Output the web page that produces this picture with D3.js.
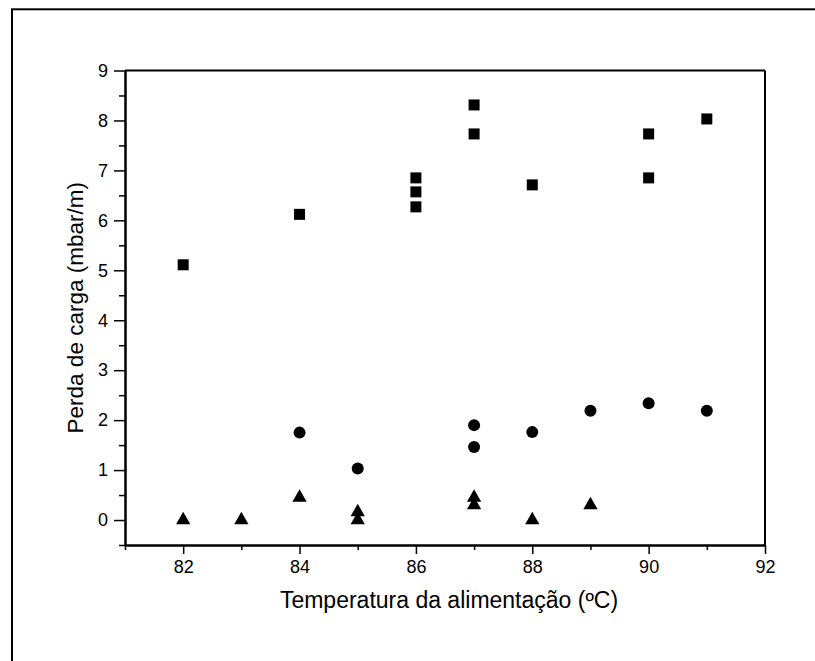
<!DOCTYPE html>
<html>
<head>
<meta charset="utf-8">
<script src="https://cdn.jsdelivr.net/npm/d3@7"></script>
<style>
  html, body { margin: 0; padding: 0; background: #fff; overflow: hidden; }
  svg { display: block; }
  text { font-family: "Liberation Sans", Arial, sans-serif; fill: #000; }
</style>
</head>
<body>
<svg id="chart"></svg>
<script>
// data
var squareX = [82, 84, 86, 86, 86, 87, 87, 88, 90, 90, 91]
var squareY = [5.11, 6.12, 6.85, 6.57, 6.27, 8.31, 7.73, 6.71, 7.73, 6.85, 8.03]

var circleX = [84, 85, 87, 87, 88, 89, 90, 91]
var circleY = [1.75, 1.03, 1.90, 1.46, 1.76, 2.19, 2.34, 2.19]

var triangleX = [82, 83, 84, 85, 85, 87, 87, 88, 89]
var triangleY = [0, 0, 0.45, 0.16, 0, 0.45, 0.30, 0, 0.30]

var xMajorTicks = [82, 84, 86, 88, 90, 92]
var xMinorTicks = [81, 83, 85, 87, 89, 91]
var yMajorTicks = [0, 1, 2, 3, 4, 5, 6, 7, 8, 9]
var yMinorTicks = [-0.5, 0.5, 1.5, 2.5, 3.5, 4.5, 5.5, 6.5, 7.5, 8.5]

var dimensions = {
    width: 815,
    height: 661,
    margin: {
        top: 70.5,
        bottom: 116,
        right: 50,
        left: 125
    }
}

var svg = d3.select("#chart")
    .attr("width", dimensions.width)
    .attr("height", dimensions.height)

// outer frame, only top and left edges are visible in the picture
svg.append("rect")
    .attr("x", 12)
    .attr("y", 9.3)
    .attr("width", 900)
    .attr("height", 900)
    .attr("fill", "none")
    .attr("stroke", "#000")
    .attr("stroke-width", 2)

var xScale = d3.scaleLinear()
    .domain([81, 92])
    .range([dimensions.margin.left, dimensions.width - dimensions.margin.right])

var yScale = d3.scaleLinear()
    .domain([-0.5, 9])
    .range([dimensions.height - dimensions.margin.bottom, dimensions.margin.top])

var bottom = yScale.range()[0]
var top_ = yScale.range()[1]

// frame lines top and right
svg.append("line")
    .attr("x1", xScale.range()[0]).attr("x2", xScale.range()[1])
    .attr("y1", top_).attr("y2", top_)
    .attr("stroke", "#000").attr("stroke-width", 2)
svg.append("line")
    .attr("x1", xScale.range()[1]).attr("x2", xScale.range()[1])
    .attr("y1", top_).attr("y2", bottom)
    .attr("stroke", "#000").attr("stroke-width", 2)

// x axis
var xAxis = d3.axisBottom(xScale)
    .tickValues(xMajorTicks)
    .tickSize(9)
    .tickSizeOuter(0)
    .tickPadding(6)
    .tickFormat(d3.format("d"))

var xMinor = d3.axisBottom(xScale)
    .tickValues(xMinorTicks)
    .tickSize(5)
    .tickSizeOuter(0)
    .tickFormat("")

svg.append("g")
    .attr("transform", "translate(0," + bottom + ")")
    .call(xAxis)
svg.append("g")
    .attr("transform", "translate(0," + bottom + ")")
    .call(xMinor)

// y axis
var yAxis = d3.axisLeft(yScale)
    .tickValues(yMajorTicks)
    .tickSize(11)
    .tickSizeOuter(0)
    .tickPadding(6)
    .tickFormat(d3.format("d"))

var yMinor = d3.axisLeft(yScale)
    .tickValues(yMinorTicks)
    .tickSize(6)
    .tickSizeOuter(0)
    .tickFormat("")

svg.append("g")
    .attr("transform", "translate(" + xScale.range()[0] + ",0)")
    .call(yAxis)
svg.append("g")
    .attr("transform", "translate(" + xScale.range()[0] + ",0)")
    .call(yMinor)

svg.selectAll(".domain")
    .attr("stroke", "#000")
    .attr("stroke-width", 2)
svg.selectAll(".tick line")
    .attr("stroke", "#000")
    .attr("stroke-width", 1.5)
svg.selectAll(".tick text")
    .style("font-size", "18px")
    .style("font-family", "'Liberation Sans', Arial, sans-serif")

// axis labels
svg.append("text")
    .attr("x", (xScale.range()[0] + xScale.range()[1]) / 2 + 4)
    .attr("y", 608)
    .attr("text-anchor", "middle")
    .style("font-size", "23px")
    .text("Temperatura da alimentação (ºC)")

svg.append("text")
    .attr("transform", "translate(83," + ((top_ + bottom) / 2) + ") rotate(-90)")
    .attr("text-anchor", "middle")
    .style("font-size", "22.5px")
    .text("Perda de carga (mbar/m)")

// markers
var sq = 11
svg.selectAll("rect.sq")
    .data(d3.range(squareX.length))
    .enter()
    .append("rect")
    .attr("class", "sq")
    .attr("x", function (i) { return xScale(squareX[i]) - sq / 2 })
    .attr("y", function (i) { return yScale(squareY[i]) - sq / 2 })
    .attr("width", sq)
    .attr("height", sq)
    .attr("fill", "#000")

svg.selectAll("circle.ci")
    .data(d3.range(circleX.length))
    .enter()
    .append("circle")
    .attr("class", "ci")
    .attr("cx", function (i) { return xScale(circleX[i]) })
    .attr("cy", function (i) { return yScale(circleY[i]) })
    .attr("r", 6)
    .attr("fill", "#000")

var tri = d3.symbol().type(d3.symbolTriangle).size(88)
svg.selectAll("path.tr")
    .data(d3.range(triangleX.length))
    .enter()
    .append("path")
    .attr("class", "tr")
    .attr("d", tri)
    .attr("transform", function (i) {
        return "translate(" + xScale(triangleX[i]) + "," + yScale(triangleY[i]) + ")"
    })
    .attr("fill", "#000")
</script>
</body>
</html>
